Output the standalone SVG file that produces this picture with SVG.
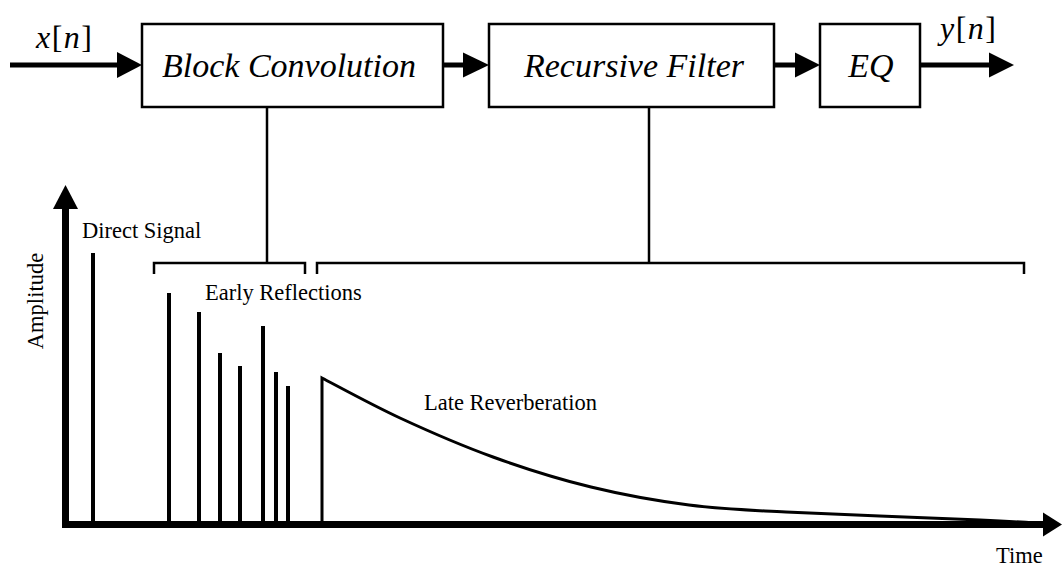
<svg xmlns="http://www.w3.org/2000/svg" width="1062" height="567" viewBox="0 0 1062 567">
<style>
.box{fill:#fff;stroke:#000;stroke-width:2.5}
text{font-family:'Liberation Serif','Times New Roman',serif;fill:#000}
.lbl{font-style:italic;font-size:34px;text-anchor:middle}
.sig{font-size:32px}
.txt{font-size:22.5px}
.flow{stroke:#000;stroke-width:5;fill:none}
.head{fill:#000;stroke:none}
.thin{stroke:#000;stroke-width:2.5;fill:none}
.axis{stroke:#000;stroke-width:7;fill:none}
.spike{stroke:#000;stroke-width:4;fill:none}
.curve{stroke:#000;stroke-width:3;fill:none;stroke-linejoin:miter}
</style>
<rect width="1062" height="567" fill="#fff"/>

<g id="connectors">
  <line class="flow" x1="10" y1="65" x2="118" y2="65"/>
  <polygon class="head" points="117,52 142,65 117,78"/>
  <line class="flow" x1="443" y1="65" x2="464" y2="65"/>
  <polygon class="head" points="463,52.5 489,65 463,77.5"/>
  <line class="flow" x1="774" y1="65" x2="796" y2="65"/>
  <polygon class="head" points="795,52.5 820,65 795,77.5"/>
  <line class="flow" x1="920" y1="65" x2="990" y2="65"/>
  <polygon class="head" points="989,52.5 1014,65 989,77.5"/>
  <line class="thin" x1="267" y1="107" x2="267" y2="263"/>
  <line class="thin" x1="649" y1="107" x2="649" y2="263"/>
  <path class="thin" d="M154,274 V263 H305 V274"/>
  <path class="thin" d="M317,274 V263 H1024 V274"/>
</g>

<g id="input-label">
  <text class="sig" x="36" y="48" letter-spacing="1.5"><tspan font-style="italic">x</tspan>[<tspan font-style="italic">n</tspan>]</text>
</g>
<g id="block-convolution">
  <rect class="box" x="142" y="24" width="301" height="83"/>
  <text class="lbl" x="289" y="77">Block Convolution</text>
</g>
<g id="recursive-filter">
  <rect class="box" x="489" y="24" width="285" height="83"/>
  <text class="lbl" x="634" y="77">Recursive Filter</text>
</g>
<g id="eq">
  <rect class="box" x="820" y="24" width="100" height="83"/>
  <text class="lbl" x="871" y="77">EQ</text>
</g>
<g id="output-label">
  <text class="sig" x="940" y="39" letter-spacing="1.5"><tspan font-style="italic">y</tspan>[<tspan font-style="italic">n</tspan>]</text>
</g>

<g id="chart">
  <line class="axis" x1="65.5" y1="528" x2="65.5" y2="208"/>
  <polygon class="head" points="53,209 65.5,185 78,209"/>
  <line class="axis" x1="62" y1="524.5" x2="1044" y2="524.5"/>
  <polygon class="head" points="1043,512.5 1062,524.5 1043,536.5"/>
  <text class="txt" transform="translate(43,301) rotate(-90)" text-anchor="middle">Amplitude</text>
  <text class="txt" x="996" y="563">Time</text>
</g>

<g id="direct-signal">
  <line class="spike" x1="93" y1="253" x2="93" y2="524"/>
  <text class="txt" x="82" y="238">Direct Signal</text>
</g>

<g id="early-reflections">
  <line class="spike" x1="169" y1="293" x2="169" y2="524"/>
  <line class="spike" x1="199" y1="312" x2="199" y2="524"/>
  <line class="spike" x1="220" y1="353" x2="220" y2="524"/>
  <line class="spike" x1="240" y1="366" x2="240" y2="524"/>
  <line class="spike" x1="263" y1="326" x2="263" y2="524"/>
  <line class="spike" x1="276" y1="372" x2="276" y2="524"/>
  <line class="spike" x1="288" y1="386" x2="288" y2="524"/>
  <text class="txt" x="205" y="300">Early Reflections</text>
</g>

<g id="late-reverberation">
  <path class="curve" d="M322,524 V378 C335,384.7 371.5,404.8 400,418 C428.5,431.2 461.2,445.5 493,457 C524.8,468.5 558.3,479 591,487 C623.7,495 656.5,500.8 689,505 C721.5,509.2 737.5,509.5 786,512 C834.5,514.5 937.2,518.1 980,520 C1022.8,521.9 1032.5,522.9 1043,523.5"/>
  <text class="txt" x="424" y="410">Late Reverberation</text>
</g>
</svg>
